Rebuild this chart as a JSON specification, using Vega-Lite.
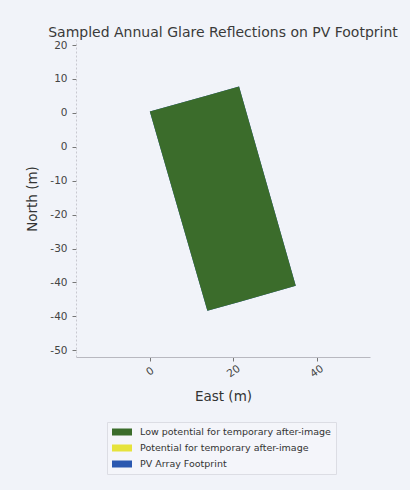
{
  "$schema": "https://vega.github.io/schema/vega-lite/v6.json",
  "width": 294,
  "height": 317,
  "autosize": {"type": "none"},
  "padding": {"left": 76, "top": 40, "right": 40, "bottom": 133},
  "background": "#f1f3f9",
  "config": {
    "view": {"stroke": null},
    "font": "DejaVu Sans",
    "axis": {"grid": false, "domainColor": "#b8b8c0", "domainWidth": 1, "tickColor": "#777", "tickSize": 4, "labelColor": "#444", "titleColor": "#333", "labelFontSize": 10.5, "titleFontSize": 13.5, "titleFontWeight": "normal", "labelFont": "DejaVu Sans", "titleFont": "DejaVu Sans"}
  },
  "title": {"text": "Sampled Annual Glare Reflections on PV Footprint", "fontSize": 14, "fontWeight": "normal", "color": "#3a3a3a", "font": "DejaVu Sans", "anchor": "middle", "offset": 0},
  "datasets": {
    "poly": [
      {"category": "PV Array Footprint", "east": 0, "top": 4.3, "bottom": 4.3},
      {"category": "PV Array Footprint", "east": 13.8, "top": 8.1, "bottom": -42.7},
      {"category": "PV Array Footprint", "east": 21.4, "top": 10.2, "bottom": -40.6},
      {"category": "PV Array Footprint", "east": 35.0, "top": -36.8, "bottom": -36.8},
      {"category": "Low potential for temporary after-image", "east": 0, "top": 4.3, "bottom": 4.3},
      {"category": "Low potential for temporary after-image", "east": 13.8, "top": 8.1, "bottom": -42.7},
      {"category": "Low potential for temporary after-image", "east": 21.4, "top": 10.2, "bottom": -40.6},
      {"category": "Low potential for temporary after-image", "east": 35.0, "top": -36.8, "bottom": -36.8}
    ]
  },
  "data": {"name": "poly"},
  "mark": {"type": "area", "orient": "vertical", "opacity": 1},
  "encoding": {
    "x": {"field": "east", "type": "quantitative", "scale": {"domain": [-17.7, 52.8], "nice": false, "zero": false}, "axis": {"values": [0, 20, 40], "labelAngle": -35, "labelAlign": "center", "labelBaseline": "middle", "labelPadding": 10, "title": "East (m)", "titlePadding": 10}},
    "y": {"field": "top", "type": "quantitative", "scale": {"domain": [-53.6, 21.2], "nice": false, "zero": false}, "axis": {"values": [20, 12, 4, -4, -12, -20, -28, -36, -44, -52], "labelExpr": "'' + (round(datum.value/10)*10 + 0)", "labelPadding": 5, "title": "North (m)", "titlePadding": 10, "domainColor": "#c8c8d0", "domainDash": [2, 2]}},
    "y2": {"field": "bottom"},
    "detail": {"field": "category"},
    "order": {"field": "category", "sort": "descending"},
    "color": {
      "field": "category",
      "type": "nominal",
      "scale": {"domain": ["Low potential for temporary after-image", "Potential for temporary after-image", "PV Array Footprint"], "range": ["#3b6c2b", "#e6e33c", "#2a58b0"]},
      "legend": {"title": null, "orient": "none", "legendX": 31, "legendY": 382, "direction": "vertical", "symbolType": "M-1,-0.7H3V0.7H-1Z", "symbolSize": 100, "symbolStrokeWidth": 0, "labelFontSize": 9.5, "labelColor": "#333", "labelFont": "DejaVu Sans", "labelOffset": 18, "rowPadding": 6, "padding": 5, "strokeColor": "#dcdde4", "fillColor": "#f4f5fa", "symbolOpacity": 1, "labelLimit": 300}
    }
  }
}
